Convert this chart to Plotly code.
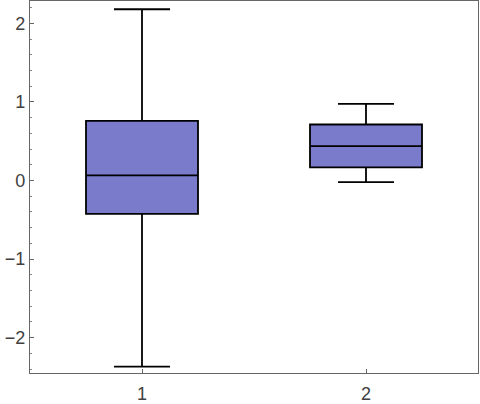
import plotly.graph_objects as go

# box-whisker summary values
groups = [1, 2]
lower = [-2.37, -0.02]
q1 = [-0.425, 0.167]
median = [0.066, 0.438]
q3 = [0.76, 0.713]
upper = [2.18, 0.975]

y_ticks = [-2, -1, 0, 1, 2]
y_labels = ["\u22122", "\u22121", "0", "1", "2"]

fig = go.Figure()
fig.add_trace(go.Box(
    x=groups,
    q1=q1,
    median=median,
    q3=q3,
    lowerfence=lower,
    upperfence=upper,
    width=0.5,
    whiskerwidth=0.5,
    fillcolor="#7b7bcc",
    line=dict(color="black", width=1.8),
    boxpoints=False,
    hoverinfo="skip",
))

axis_font = dict(family="Liberation Sans, Arial, sans-serif", size=18, color="#404040")

fig.update_layout(
    width=480,
    height=404,
    margin=dict(l=30, r=2, t=1, b=31, pad=0),
    plot_bgcolor="white",
    paper_bgcolor="white",
    showlegend=False,
)
fig.update_xaxes(
    range=[0.5, 2.5],
    tickvals=groups,
    ticktext=[str(g) for g in groups],
    ticks="inside",
    ticklen=4,
    tickcolor="#666666",
    ticklabelstandoff=4,
    showline=True,
    linecolor="#666666",
    linewidth=1.2,
    mirror=True,
    showgrid=False,
    zeroline=False,
    automargin=False,
    tickfont=axis_font,
)
fig.update_yaxes(
    range=[-2.45, 2.285],
    tickvals=y_ticks,
    ticktext=y_labels,
    ticks="inside",
    ticklen=4,
    tickcolor="#666666",
    minor=dict(dtick=0.2, tick0=0, ticks="inside", ticklen=2, tickcolor="#888888"),
    showline=True,
    linecolor="#666666",
    linewidth=1.2,
    mirror=True,
    showgrid=False,
    zeroline=False,
    automargin=False,
    tickfont=axis_font,
)

# drop the default page margin so the figure sits at the window's corner
fig.write_html(
    "out.html",
    config={"displayModeBar": False},
    post_script="document.body.style.margin='0';document.body.style.overflow='hidden';",
)
